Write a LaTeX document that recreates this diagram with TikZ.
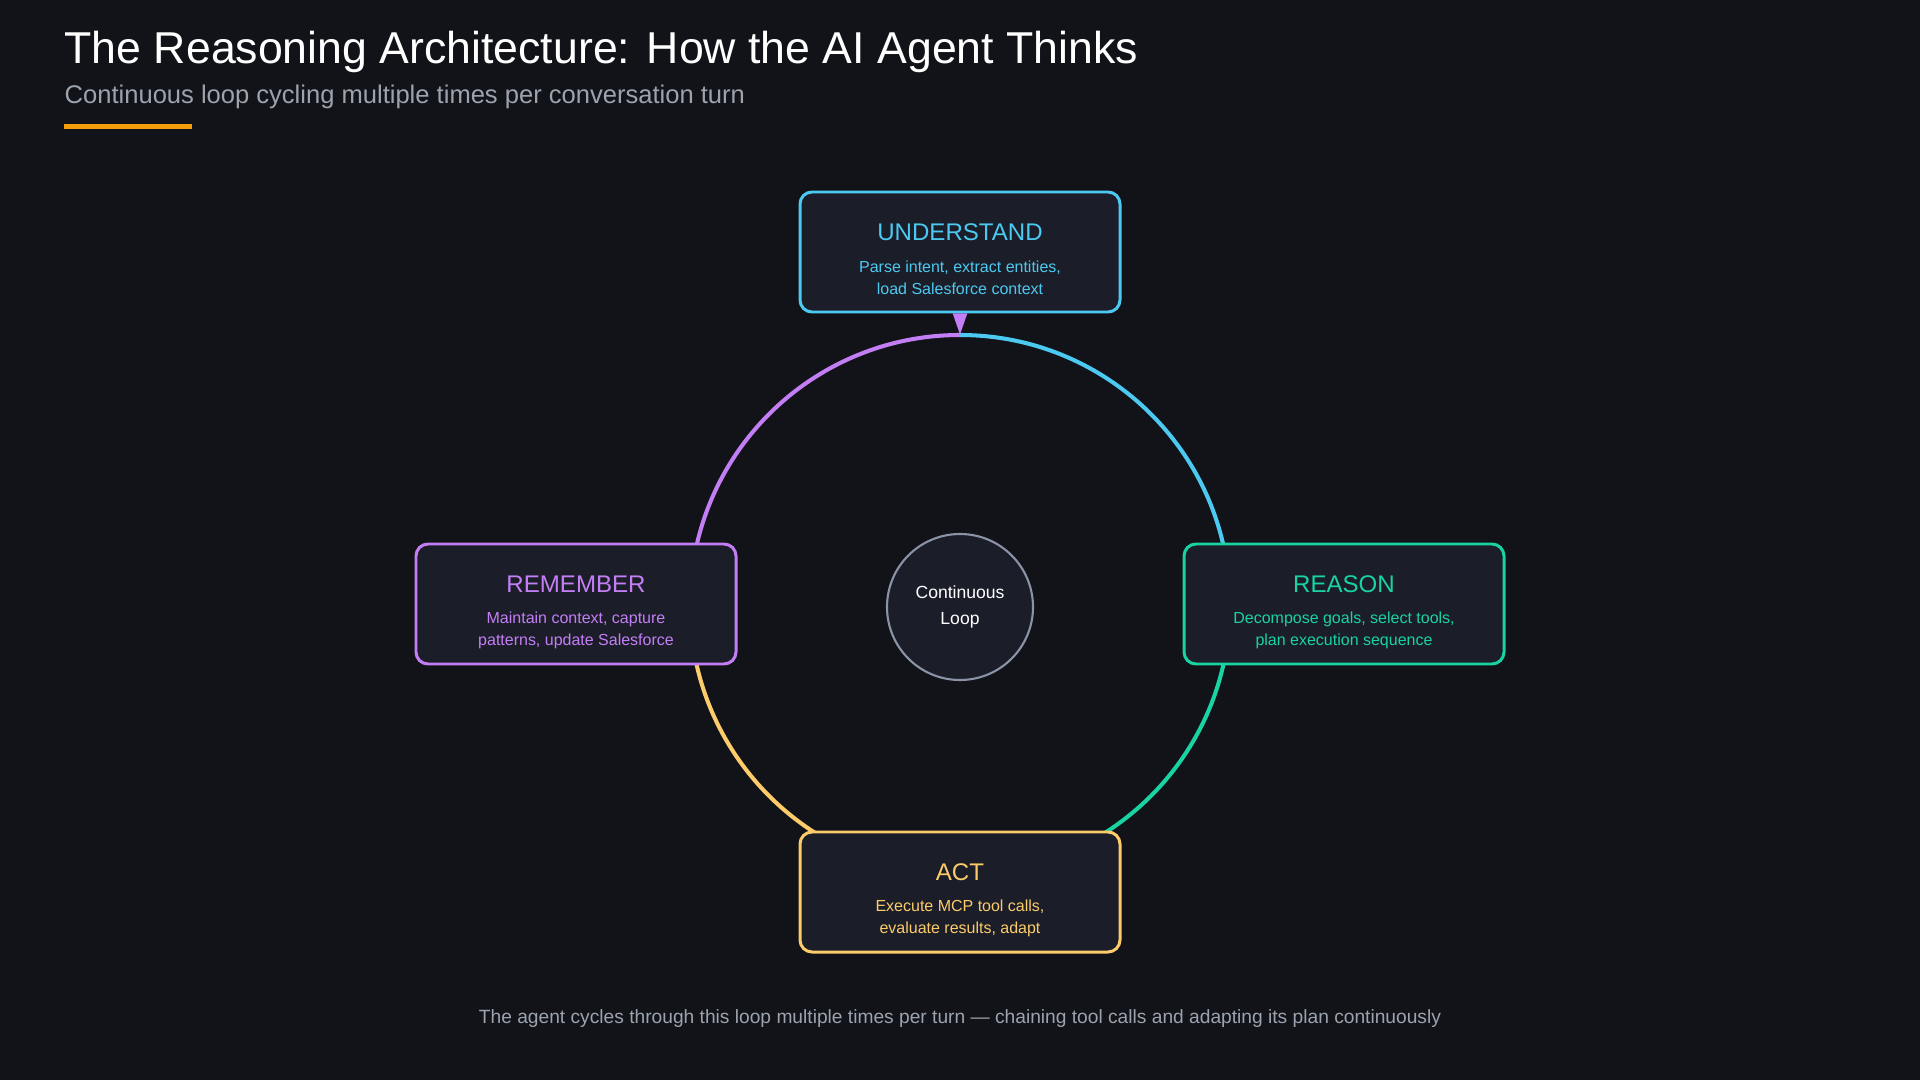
\documentclass[tikz,border=0pt]{standalone}
\usepackage{fontspec}
\setmainfont{Liberation Sans}
\usepackage{tikz}
\usetikzlibrary{positioning}
\definecolor{bgdark}{HTML}{111318}
\definecolor{boxfill}{HTML}{1B1E29}
\definecolor{softgray}{HTML}{9CA3AF}
\definecolor{ringgray}{HTML}{8B93A7}
\definecolor{understandc}{HTML}{4CC9F0}
\definecolor{reasonc}{HTML}{19D3A2}
\definecolor{actc}{HTML}{FCCB6A}
\definecolor{rememberc}{HTML}{C47EF5}
\definecolor{accent}{HTML}{F59E0B}
\tikzset{%
  phase box/.style={
    rectangle,
    rounded corners=0.12cm,
    draw=#1,
    fill=boxfill,
    line width=0.85pt,
    minimum width=3.2cm,
    minimum height=1.2cm
  },
  phase title/.style={
    text=#1,
    font=\fontsize{6.85}{7.5}\selectfont
  },
  phase text/.style={
    text=#1,
    align=center,
    font=\fontsize{4.55}{6.2}\selectfont
  },
  loop arc/.style={
    draw=#1,
    line width=1.15pt
  },
}

\begin{document}
\begin{tikzpicture}
\fill[bgdark] (0,0) rectangle (19.2,-10.8);
\useasboundingbox (0,0) rectangle (19.2,-10.8);

% heading
\node[anchor=west, inner sep=0pt, text=white, font=\fontsize{12.7}{14}\selectfont] (title) at (0.64,-0.52) {The Reasoning Architecture: How the AI Agent Thinks};
\node[anchor=west, inner sep=0pt, text=softgray, font=\fontsize{7.27}{8.5}\selectfont] (subtitle) at (0.64,-0.97) {Continuous loop cycling multiple times per conversation turn};
\draw[accent, line width=1.2pt] (0.64,-1.265) -- (1.92,-1.265);

% the loop
\coordinate (hub) at (9.6,-6.05);
\draw[loop arc=understandc] (hub) ++(90:2.7) arc[start angle=90, end angle=0, radius=2.7];
\draw[loop arc=reasonc] (hub) ++(0:2.7) arc[start angle=0, end angle=-90, radius=2.7];
\draw[loop arc=actc] (hub) ++(-90:2.7) arc[start angle=-90, end angle=-180, radius=2.7];
\draw[loop arc=rememberc] (hub) ++(180:2.7) arc[start angle=180, end angle=90, radius=2.7];

\node[circle, draw=ringgray, line width=0.6pt, fill=boxfill, minimum size=1.46cm, align=center,
      text=white, font=\fontsize{5.0}{7.4}\selectfont] (core) at (9.6,-6.07) {Continuous\\Loop};

\foreach \name/\x/\y/\col/\head/\desc in {
    understand/9.6/-2.52/understandc/UNDERSTAND/{Parse intent, extract entities,\\load Salesforce context},
    reason/13.44/-6.04/reasonc/REASON/{Decompose goals, select tools,\\plan execution sequence},
    act/9.6/-8.92/actc/ACT/{Execute MCP tool calls,\\evaluate results, adapt},
    remember/5.76/-6.04/rememberc/REMEMBER/{Maintain context, capture\\patterns, update Salesforce}}
{
    \node[phase box=\col] (\name) at (\x,\y) {};
    \node[phase title=\col] (\name_head) at ([yshift=0.2cm]\name.center) {\head};
    \node[phase text=\col] (\name_desc) at ([yshift=-0.26cm]\name.center) {\desc};
}

% tip under the top box
\fill[rememberc] ([xshift=-0.073cm]understand.south) -- ([xshift=0.073cm]understand.south) -- ([yshift=-0.21cm]understand.south) -- cycle;

% footer
\node[text=softgray, font=\fontsize{5.46}{6.5}\selectfont] (note) at (9.6,-10.19) {The agent cycles through this loop multiple times per turn — chaining tool calls and adapting its plan continuously};
\end{tikzpicture}
\end{document}
